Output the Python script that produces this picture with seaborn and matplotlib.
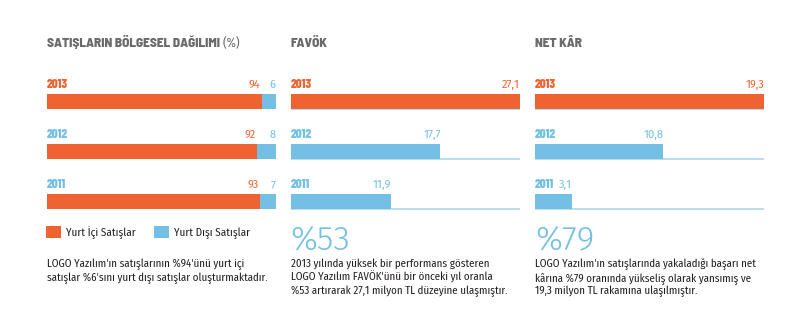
import matplotlib
matplotlib.use("Agg")
import matplotlib.pyplot as plt
from matplotlib.patches import Patch
import seaborn as sns
import pandas as pd

# ---- data ----
years = ["2013", "2012", "2011"]
domestic = [94, 92, 93]          # Yurt İçi Satışlar (%)
foreign = [6, 8, 7]              # Yurt Dışı Satışlar (%)
favok = [27.1, 17.7, 11.9]       # FAVÖK (milyon TL)
net_kar = [19.3, 10.8, 3.1]      # Net Kâr (milyon TL)

titles = ["SATIŞLARIN BÖLGESEL DAĞILIMI", "FAVÖK", "NET KÂR"]
title_suffix = " (%)"
legend_labels = ["Yurt İçi Satışlar", "Yurt Dışı Satışlar"]
big_numbers = ["%53", "%79"]
notes = [
    ["LOGO Yazılım'ın satışlarının %94'ünü yurt içi",
     "satışlar %6'sını yurt dışı satışlar oluşturmaktadır."],
    ["2013 yılında yüksek bir performans gösteren",
     "LOGO Yazılım FAVÖK'ünü bir önceki yıl oranla",
     "%53 artırarak 27,1 milyon TL düzeyine ulaşmıştır."],
    ["LOGO Yazılım'ın satışlarında yakaladığı başarı net",
     "kârına %79 oranında yükseliş olarak yansımış ve",
     "19,3 milyon TL rakamına ulaşılmıştır."],
]

# ---- styling ----
ORANGE = "#EE6331"
BLUE = "#73C0E4"
BASE = "#B3DCF0"
GREY = "#6A6A6C"
TEXT = "#231F20"
year_colors = {"2013": ORANGE, "2012": BLUE, "2011": BLUE}
NARROW = ["Barlow Condensed", "Barlow Semi Condensed", "DejaVu Sans"]
HEAD = ["Barlow Semi Condensed", "Barlow Condensed", "DejaVu Sans"]
BODY = ["Fira Sans Condensed", "Fira Sans", "Lato", "DejaVu Sans"]
VALUE = ["Fira Sans", "Lato", "DejaVu Sans"]
LIGHT = ["Fira Sans", "Lato", "DejaVu Sans"]

sns.set_theme(style="white")
plt.rcParams["font.family"] = BODY

W, H = 801, 325
fig = plt.figure(figsize=(W / 100, H / 100), dpi=100)


def px_axes(left, right, top, bottom):
    return fig.add_axes([left / W, 1 - bottom / H, (right - left) / W, (bottom - top) / H])


def fmt(v):
    return f"{v:g}".replace(".", ",")


panel_x = [(46.7, 275.7), (290.7, 520.0), (535.0, 764.3)]
axes = [px_axes(l, r, 76.7, 226.7) for l, r in panel_x]

df = pd.DataFrame({"year": years, "domestic": domestic, "foreign": foreign,
                   "total": [d + f for d, f in zip(domestic, foreign)],
                   "favok": favok, "net": net_kar})

BAR_H = 0.3
LABEL_Y = -0.268
YEAR_FS = 9.4
VAL_FS = 8.0

# Panel 1: stacked share of domestic / foreign sales
ax = axes[0]
sns.barplot(data=df, x="total", y="year", order=years, orient="h",
            color=BLUE, saturation=1, width=BAR_H, linewidth=0, ax=ax)
sns.barplot(data=df, x="domestic", y="year", order=years, orient="h",
            color=ORANGE, saturation=1, width=BAR_H, linewidth=0, ax=ax)
ax.set_xlim(0, 100)
for i, (y, d, f) in enumerate(zip(years, domestic, foreign)):
    c = year_colors[y]
    ax.text(0, i + LABEL_Y, y, color=c, fontsize=YEAR_FS, fontweight=800,
            family=NARROW, ha="left", va="baseline")
    ax.text(d - 0.6, i + LABEL_Y, fmt(d), color=ORANGE, fontsize=VAL_FS,
            family=VALUE, ha="right", va="baseline")
    ax.text(d + f, i + LABEL_Y, fmt(f), color=BLUE, fontsize=VAL_FS,
            family=VALUE, ha="right", va="baseline")

# Panels 2 and 3: single-value bars on a light baseline
for ax, col, vals in [(axes[1], "favok", favok), (axes[2], "net", net_kar)]:
    xmax = max(vals)
    for i in range(len(years)):
        ax.hlines(i + BAR_H / 2 - 0.012, 0, xmax, color=BASE, linewidth=1.3, zorder=0)
    sns.barplot(data=df, x=col, y="year", order=years, orient="h", hue="year",
                palette=year_colors, saturation=1, legend=False, width=BAR_H,
                linewidth=0, ax=ax, zorder=2)
    ax.set_xlim(0, xmax)
    for i, (y, v) in enumerate(zip(years, vals)):
        c = year_colors[y]
        ax.text(0, i + LABEL_Y, y, color=c, fontsize=YEAR_FS, fontweight=800,
                family=NARROW, ha="left", va="baseline")
        ax.text(v, i + LABEL_Y, fmt(v), color=c, fontsize=VAL_FS,
                family=VALUE, ha="right", va="baseline")

for ax in axes:
    ax.set_ylim(2.5, -0.5)
    ax.axis("off")

# Panel titles
title_base = 1 - 47.3 / H
TITLE_FS = 9.6
t = fig.text(panel_x[0][0] / W, title_base, titles[0], color=GREY, fontsize=TITLE_FS,
             fontweight=800, family=HEAD, va="baseline")
fig.canvas.draw()
bb = t.get_window_extent()
fig.text(bb.x1 / W, title_base, title_suffix, color=GREY, fontsize=9,
         family=BODY, va="baseline")
for (l, _), title in zip(panel_x[1:], titles[1:]):
    fig.text(l / W, title_base, title, color=GREY, fontsize=TITLE_FS,
             fontweight=800, family=HEAD, va="baseline")

# Legend
handles = [Patch(facecolor=ORANGE, edgecolor="none"), Patch(facecolor=BLUE, edgecolor="none")]
fig.legend(handles, legend_labels, loc="upper left",
           bbox_to_anchor=(46 / W, 1 - 226 / H), ncol=2, frameon=False,
           fontsize=8, handlelength=1.35, handleheight=1.35, handletextpad=0.45,
           columnspacing=1.65, borderpad=0, borderaxespad=0, labelcolor=TEXT)

# Big percentages
for (l, _), num in zip(panel_x[1:], big_numbers):
    fig.text(l / W, 1 - 249.5 / H, num, color=BLUE, fontsize=24.5,
             fontweight=300, family=LIGHT, va="baseline")

# Notes under each panel
line_base = [266.7, 280.8, 294.6]
for (l, _), lines in zip(panel_x, notes):
    for yb, line in zip(line_base, lines):
        fig.text(l / W, 1 - yb / H, line, color=TEXT, fontsize=7.9,
                 family=BODY, va="baseline")

fig.savefig("out.png", dpi=100)
